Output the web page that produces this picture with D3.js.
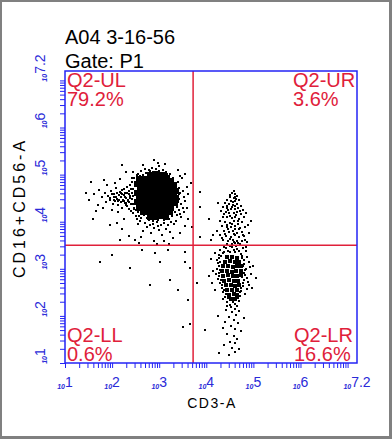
<!DOCTYPE html>
<html><head><meta charset="utf-8">
<script src="https://cdn.jsdelivr.net/npm/d3@7"></script>
<style>html,body{margin:0;padding:0;background:#fff}svg{display:block}</style>
</head><body>
<svg id="c" width="392" height="439"></svg>
<script>
// ---- data (log10 units) ----
const title = "A04 3-16-56";
const gateLabel = "Gate: P1";
const xLabel = "CD3-A";
const yLabel = "CD16+CD56-A";
const decadeTicks = [1, 2, 3, 4, 5, 6, 7.2];
const tickLabels = ["1", "2", "3", "4", "5", "6", "7.2"];
const quadX = 3.72, quadY = 3.5;
const quadNames = ["Q2-UL", "Q2-UR", "Q2-LL", "Q2-LR"];
const quadPct = ["79.2%", "3.6%", "0.6%", "16.6%"];

// dense core of the CD16+CD56+ population (drawn with larger marks)
const ulCore = [
[2.80,5.00],[2.92,5.02],[3.04,4.99],[3.13,4.97],
[2.58,4.90],[2.69,4.91],[2.81,4.89],[2.93,4.92],[3.05,4.90],[3.17,4.88],[3.25,4.86],
[2.52,4.80],[2.63,4.81],[2.75,4.79],[2.86,4.80],[2.98,4.82],[3.10,4.80],[3.21,4.78],[3.31,4.79],
[2.59,4.71],[2.70,4.69],[2.82,4.70],[2.94,4.72],[3.06,4.70],[3.17,4.68],[3.29,4.70],[3.35,4.66],
[2.52,4.61],[2.61,4.59],[2.73,4.60],[2.85,4.62],[2.96,4.60],[3.08,4.58],[3.20,4.60],[3.32,4.59],
[2.57,4.49],[2.68,4.50],[2.80,4.52],[2.92,4.50],[3.03,4.48],[3.15,4.50],[3.27,4.49],[3.36,4.51],
[2.53,4.41],[2.64,4.39],[2.76,4.40],[2.87,4.42],[2.99,4.40],[3.11,4.38],[3.23,4.40],[3.33,4.39],
[2.58,4.30],[2.67,4.31],[2.79,4.29],[2.90,4.30],[3.02,4.32],[3.14,4.30],[3.26,4.29],
[2.66,4.20],[2.78,4.21],[2.90,4.19],[3.01,4.20],[3.13,4.22],[3.24,4.20],
[2.80,4.11],[2.93,4.10],[3.05,4.12],[3.15,4.10]
];
const ulPoints = [
[1.78,4.52],[1.85,4.60],[1.88,4.41],[1.92,4.55],[1.95,4.47],[1.98,4.66],[2.01,4.38],[2.03,4.52],[2.05,4.59],[2.07,4.44],
[2.09,4.71],[2.11,4.49],[2.13,4.35],[2.14,4.57],[2.16,4.63],[2.18,4.42],[2.19,4.52],[2.21,4.30],[2.22,4.68],[2.24,4.46],
[2.25,4.56],[2.27,4.39],[2.28,4.61],[2.30,4.50],[2.31,4.74],[2.32,4.33],[2.34,4.43],[2.35,4.66],[2.36,4.27],[2.37,4.55],
[2.39,4.79],[2.40,4.22],[2.41,4.37],[2.42,4.48],[2.43,4.85],[2.44,4.70],[2.45,4.18],[2.46,4.30],[2.47,4.92],[2.48,4.61],
[2.50,4.13],[2.51,4.25],[1.70,4.35],[1.62,4.58],[1.73,4.68],[1.81,4.30],[1.90,4.77],[2.00,4.24],[2.06,4.82],[2.12,4.20],
[1.50,4.47],[1.66,4.22],[1.83,4.88],[2.17,4.90],[1.96,4.50],[2.08,4.53],[2.20,4.58],[2.26,4.45],[2.15,4.47],[2.29,4.40],
[2.55,5.02],[2.62,5.08],[2.70,5.12],[2.78,5.10],[2.85,5.15],[2.93,5.11],[3.00,5.18],[3.08,5.09],[3.15,5.06],[3.22,5.01],
[2.66,5.20],[2.97,5.25],[3.30,4.93],[2.45,5.05],[2.88,5.30],[3.12,5.22],
[3.40,4.85],[3.43,4.72],[3.45,4.60],[3.42,4.48],[3.46,4.38],[3.41,4.25],[3.38,4.15],[3.50,4.66],[3.52,4.52],[3.48,4.92],
[3.55,4.44],[3.58,4.74],[3.60,4.30],[3.47,4.10],[3.36,4.02],[3.62,4.58],
[2.60,4.02],[2.70,3.98],[2.78,4.03],[2.86,3.95],[2.95,4.00],[3.03,3.94],[3.10,3.97],[3.18,3.92],[3.25,3.99],[2.52,4.06],
[2.90,3.86],[3.00,3.82],[3.14,3.84],[2.75,3.88],[3.22,3.78],[2.65,3.80],[3.05,3.72],[2.82,3.75],
[1.95,3.92],[2.20,3.85],[2.35,3.70],[2.48,3.62],[2.62,3.68],[2.88,3.60],[3.10,3.58],[3.30,3.66],[3.45,3.75],[3.55,3.90],
[3.62,4.05],[2.25,4.05],[2.10,3.98],[1.60,4.05],[1.45,4.62],[1.55,4.85],[2.30,5.05],[2.20,5.20],[3.40,5.10],[3.55,5.02],
[3.68,4.82],[2.58,3.55],[3.20,3.53],[2.95,3.52],[2.17,3.61],[3.70,3.89],[3.52,4.20],
[2.45,4.55],[2.48,4.45],[2.50,4.66],[2.42,4.62],[2.38,4.50],[2.36,4.42],[2.40,4.70],[2.52,4.36],[2.47,4.28],[2.55,4.20],
[2.58,4.12],[2.62,4.08],[2.35,4.58],[2.33,4.47],[2.44,4.38],[2.53,4.75],[2.49,4.83],[2.56,4.88],[2.60,4.96],[2.66,5.00],
[2.72,5.04],[2.80,5.08],[2.90,5.06],[3.00,5.08],[3.10,5.04],[3.20,4.96],[3.28,4.88],[3.36,4.80],[3.40,4.70],[3.42,4.58],
[3.40,4.42],[3.38,4.32],[3.34,4.20],[3.28,4.12],[3.20,4.06],[3.10,4.03],[2.98,4.04],[2.86,4.02],[2.74,4.08],[2.68,4.14],
[2.27,4.52],[2.23,4.43],[2.31,4.62],[2.18,4.60],[2.29,4.36],[2.12,4.44],[2.04,4.47],[1.99,4.58],[2.10,4.62],[2.26,4.70],
[2.37,4.78],[2.43,4.93],[2.52,5.00],[3.45,4.98],[3.50,4.30],[3.44,4.16],[3.32,3.95],[2.98,3.90],[2.80,3.93],[2.56,3.96]
];
const llPoints = [
[2.63,3.40],[2.91,3.34],[3.19,3.40],[3.55,3.36],[1.74,3.14],[2.00,3.29],[2.38,3.02],[3.02,3.14],[3.23,2.76],[3.40,2.55],
[3.55,3.14],[3.66,3.02],[3.61,2.34],[3.51,1.76],[3.65,1.83],[2.80,2.66]
];
const urPoints = [
[4.55,4.60],[4.62,4.58],[4.50,4.52],[4.58,4.50],[4.66,4.54],[4.45,4.46],[4.53,4.44],[4.61,4.43],[4.70,4.47],[4.40,4.40],
[4.48,4.38],[4.57,4.36],[4.65,4.38],[4.74,4.34],[4.36,4.31],[4.44,4.30],[4.52,4.28],[4.60,4.27],[4.68,4.29],[4.78,4.25],
[4.32,4.22],[4.41,4.20],[4.49,4.19],[4.58,4.18],[4.66,4.21],[4.73,4.16],[4.84,4.19],[4.35,4.11],[4.45,4.10],[4.54,4.08],
[4.62,4.11],[4.70,4.06],[4.80,4.09],[4.30,4.02],[4.40,4.00],[4.50,3.98],[4.58,4.01],[4.67,3.96],[4.76,3.99],[4.88,3.94],
[4.34,3.91],[4.44,3.89],[4.53,3.88],[4.62,3.90],[4.72,3.86],[4.82,3.88],[4.38,3.80],[4.48,3.78],[4.57,3.81],[4.66,3.77],
[4.76,3.79],[4.90,3.75],[4.30,3.72],[4.42,3.70],[4.52,3.68],[4.61,3.71],[4.70,3.67],[4.81,3.69],[4.36,3.61],[4.47,3.59],
[4.56,3.62],[4.65,3.58],[4.75,3.60],[4.86,3.56],[4.44,3.53],[4.54,3.52],[4.62,3.54],[4.72,3.52],[4.58,4.65],[4.64,4.48],
[4.55,4.32],[4.47,4.25],[4.63,4.14],[4.54,3.95],[4.46,3.84],[4.69,3.84],[4.59,3.74],[4.95,4.02],[4.05,4.05],[4.10,3.62],
[4.22,3.80],[4.25,4.40],[3.87,3.68],[4.14,3.72],[3.87,4.63],[3.87,4.31],
[4.51,4.56],[4.60,4.53],[4.56,4.41],[4.43,4.34],[4.62,4.33],[4.71,4.23],[4.38,4.16],[4.51,4.13],[4.67,4.01],[4.45,3.94],
[4.60,3.84],[4.40,3.74],[4.78,3.72],[4.51,3.63],[4.68,3.55],[4.58,3.57],[4.83,3.62],[4.34,3.66]
];
// dense core of the CD3+ population
const lrCore = [
[4.45,3.25],[4.55,3.26],[4.65,3.24],
[4.40,3.15],[4.50,3.16],[4.60,3.14],[4.70,3.15],
[4.36,3.05],[4.46,3.06],[4.56,3.04],[4.66,3.05],[4.74,3.06],
[4.34,2.95],[4.44,2.96],[4.54,2.94],[4.64,2.95],[4.73,2.96],
[4.36,2.85],[4.46,2.86],[4.56,2.84],[4.66,2.85],[4.74,2.86],
[4.38,2.75],[4.48,2.76],[4.58,2.74],[4.68,2.75],
[4.42,2.65],[4.52,2.66],[4.62,2.64],[4.70,2.65],
[4.45,2.55],[4.55,2.56],[4.65,2.54],
[4.48,2.45],[4.58,2.46],[4.66,2.44],
[4.52,2.36],[4.62,2.35]
];
const lrPoints = [
[4.30,3.40],[4.42,3.44],[4.55,3.46],[4.66,3.42],[4.78,3.45],[4.35,3.33],[4.50,3.36],[4.62,3.35],[4.74,3.31],[4.84,3.38],
[4.28,3.22],[4.76,3.22],[4.86,3.26],[4.25,3.12],[4.80,3.10],[4.90,3.14],[4.22,3.00],[4.28,3.05],[4.82,2.98],[4.92,3.03],
[4.20,2.88],[4.27,2.92],[4.83,2.86],[4.95,2.90],[4.24,2.78],[4.30,2.70],[4.80,2.76],[4.88,2.72],[4.33,2.60],[4.78,2.64],
[4.86,2.58],[4.36,2.50],[4.74,2.52],[4.40,2.40],[4.72,2.42],[4.82,2.46],[4.44,2.30],[4.70,2.32],[4.50,2.24],[4.60,2.26],
[4.66,2.20],[4.15,2.95],[4.10,3.20],[4.12,2.70],[4.05,2.85],[4.18,2.55],[5.00,3.05],[5.05,2.80],[4.98,2.60],
[4.42,2.12],[4.55,2.08],[4.63,2.02],[4.70,2.10],[4.48,1.98],[4.58,1.92],[4.40,1.88],[4.68,1.85],[4.52,1.78],[4.62,1.72],
[4.35,1.75],[4.74,1.68],[4.45,1.62],[4.58,1.58],[4.66,1.52],[4.50,1.45],[4.62,1.42],[4.38,1.38],[4.55,1.32],[4.70,1.30],
[4.28,1.22],[4.48,1.18],[4.60,1.24],[4.80,1.95],[4.25,2.00],[4.18,3.34],[3.80,2.70],[3.98,1.70],
[4.32,3.28],[4.38,3.36],[4.46,3.38],[4.58,3.40],[4.70,3.38],[4.76,3.28],[4.80,3.18],[4.78,3.05],[4.80,2.92],[4.30,3.15],
[4.29,2.98],[4.28,2.85],[4.32,2.76],[4.34,2.66],[4.38,2.56],[4.41,2.47],[4.46,2.38],[4.56,2.30],[4.68,2.38],[4.72,2.50],
[4.74,2.60],[4.78,2.70],[4.76,2.82],[4.26,3.30],[4.22,3.18],[4.84,3.00],[4.86,2.80],[4.90,2.66],[4.52,2.18],[4.62,2.14],
[4.44,2.22],[4.35,2.35],[4.84,3.46],[4.50,3.48],[4.38,3.46],[4.64,3.48]
];

// ---- drawing ----
const svg = d3.select("#c");
const W = 392, H = 439;
const blue = "#2323f5", labelBlue = "#2a2ad8", red = "#e0203a";
svg.append("rect").attr("width", W).attr("height", H).attr("fill", "#808080");
svg.append("rect").attr("x", 2).attr("y", 2).attr("width", 387).attr("height", 434).attr("fill", "#fff");

const x = d3.scaleLinear().domain([1, 7.2]).range([65, 357]);
const y = d3.scaleLinear().domain([1, 7.2]).range([363, 71]);
const font = "'Liberation Sans', Arial, sans-serif";

svg.append("text").attr("x", 65).attr("y", 44).attr("font-family", font).attr("font-size", 20).text(title);
svg.append("text").attr("x", 65).attr("y", 68).attr("font-family", font).attr("font-size", 20).text(gateLabel);

// minor/major tick positions (log units)
const tickVals = [];
for (let d = 1; d < 7; d++) for (let k = 1; k < 10; k++) tickVals.push(d + Math.log10(k));
tickVals.push(7);

const xAxis = d3.axisBottom(x).tickValues(tickVals).tickSize(5).tickFormat("");
const yAxis = d3.axisLeft(y).tickValues(tickVals).tickSize(5).tickFormat("");
const gx = svg.append("g").attr("transform", "translate(0,363)").call(xAxis);
const gy = svg.append("g").attr("transform", "translate(65,0)").call(yAxis);
[gx, gy].forEach(g => {
  g.select(".domain").remove();
  g.selectAll(".tick line").attr("stroke", blue).attr("stroke-width", 1);
});

// points
const plot = svg.append("g");
function dots(data, s) {
  plot.selectAll(null).data(data).enter().append("rect")
    .attr("x", d => Math.round(x(d[0]) - s / 2)).attr("y", d => Math.round(y(d[1]) - s / 2))
    .attr("width", s).attr("height", s).attr("fill", "#000");
}
dots(ulCore, 6);
dots(lrCore, 4);
dots(ulPoints, 2);
dots(llPoints, 2);
dots(urPoints, 2);
dots(lrPoints, 2);

// quadrant lines
svg.append("line").attr("x1", x(quadX)).attr("x2", x(quadX)).attr("y1", y(7.2)).attr("y2", y(1))
  .attr("stroke", red).attr("stroke-width", 1.5);
svg.append("line").attr("x1", x(1)).attr("x2", x(7.2)).attr("y1", y(quadY)).attr("y2", y(quadY))
  .attr("stroke", red).attr("stroke-width", 1.5);

// frame
svg.append("rect").attr("x", x(1)).attr("y", y(7.2)).attr("width", x(7.2) - x(1)).attr("height", y(1) - y(7.2))
  .attr("fill", "none").attr("stroke", blue).attr("stroke-width", 1.5);

// quadrant labels
const qpos = [[67, 87], [293, 87], [67, 342], [294, 342]];
quadNames.forEach((n, i) => {
  const t = svg.append("text").attr("font-family", font).attr("font-size", 20).attr("fill", red);
  t.append("tspan").attr("x", qpos[i][0]).attr("y", qpos[i][1]).text(n);
  t.append("tspan").attr("x", qpos[i][0]).attr("y", qpos[i][1] + 19).text(quadPct[i]);
});

// tick labels
function powLabel(g, e) {
  const t = g.append("text").attr("text-anchor", "middle").attr("font-family", font).attr("fill", labelBlue);
  t.append("tspan").attr("font-size", 7).attr("font-weight", "bold").attr("font-style", "italic").attr("dy", 2).text("10");
  t.append("tspan").attr("font-size", 14).attr("dy", -2).text(e);
}
decadeTicks.forEach((v, i) => {
  const gxl = svg.append("g").attr("transform", `translate(${x(v)},387)`);
  powLabel(gxl, tickLabels[i]);
  const off = v === 7.2 ? -3 : -7;
  const gyl = svg.append("g").attr("transform", `translate(45,${y(v) + off}) rotate(-90)`);
  powLabel(gyl, tickLabels[i]);
});

// axis titles
svg.append("text").attr("x", 212).attr("y", 408).attr("text-anchor", "middle").attr("font-family", font)
  .attr("font-size", 14).attr("letter-spacing", 1.5).text(xLabel);
svg.append("text").attr("transform", "translate(25,208) rotate(-90)").attr("text-anchor", "middle").attr("font-family", font)
  .attr("font-size", 16).attr("letter-spacing", 3).text(yLabel);
</script>
</body></html>
